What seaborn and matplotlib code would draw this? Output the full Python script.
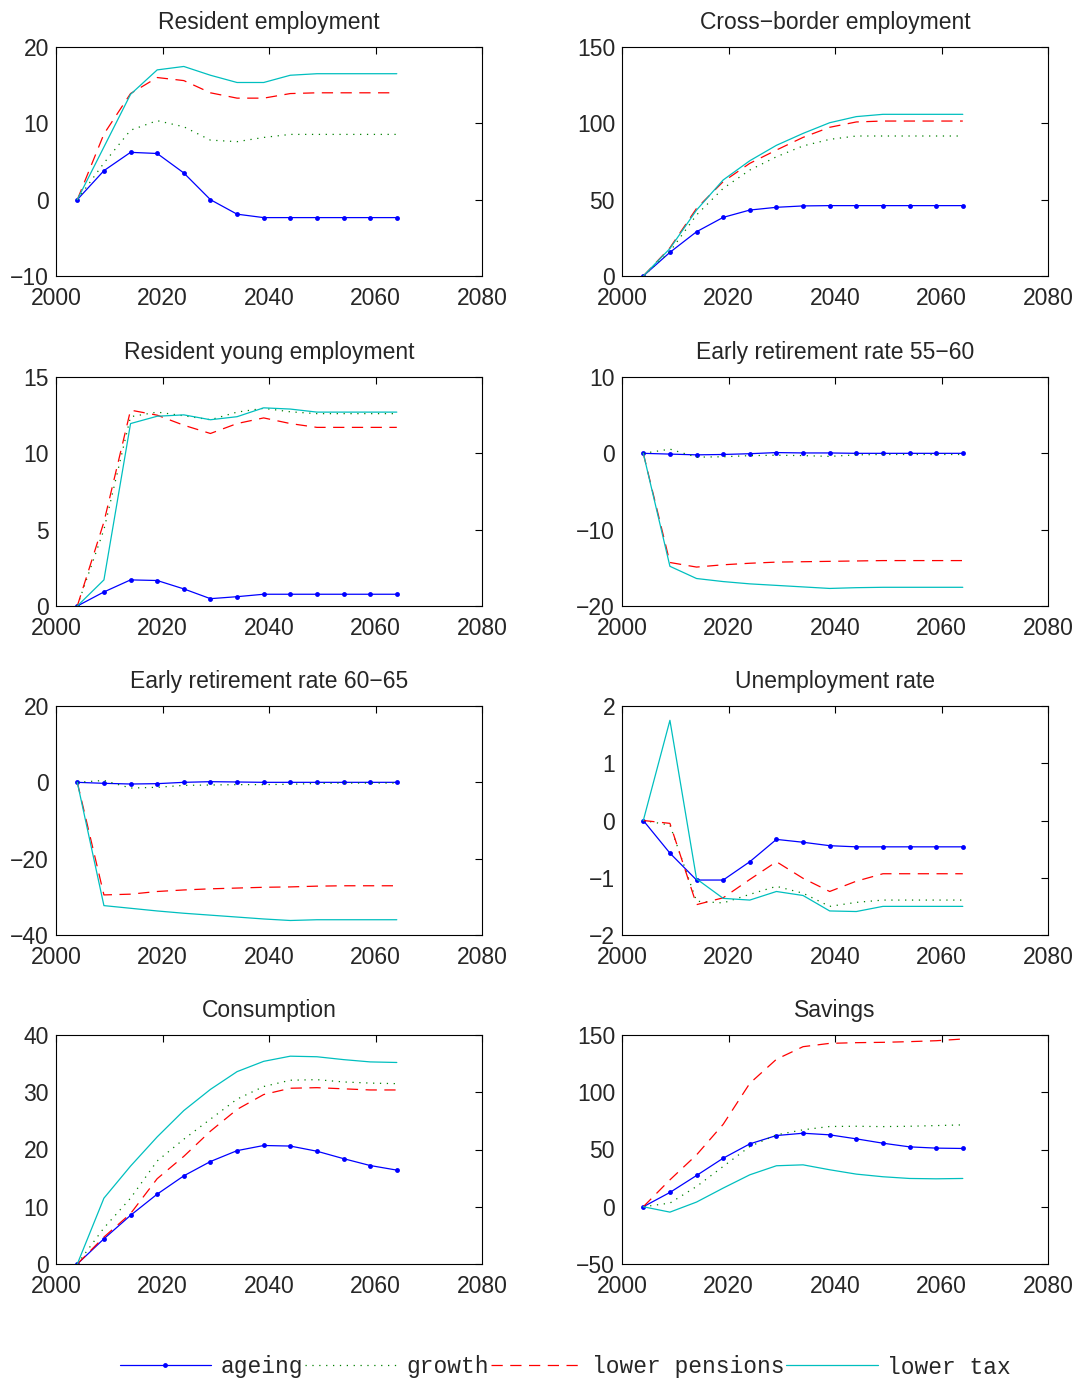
import numpy as np
import pandas as pd
import matplotlib
matplotlib.use("Agg")
import matplotlib.pyplot as plt
import seaborn as sns

years = [2004, 2009, 2014, 2019, 2024, 2029, 2034, 2039, 2044, 2049, 2054, 2059, 2064]
scenarios = ["ageing", "growth", "lower pensions", "lower tax"]
titles = ["Resident employment", "Cross\u2212border employment",
          "Resident young employment", "Early retirement rate 55\u221260",
          "Early retirement rate 60\u221265", "Unemployment rate",
          "Consumption", "Savings"]

res_emp = {
    "ageing": [0, 3.8, 6.2, 6.05, 3.5, 0, -1.9, -2.35, -2.35, -2.35, -2.35, -2.35, -2.35],
    "growth": [0, 4.8, 9.1, 10.35, 9.55, 7.8, 7.6, 8.15, 8.55, 8.55, 8.55, 8.55, 8.55],
    "lower pensions": [0, 8.6, 13.9, 16.0, 15.6, 14.0, 13.3, 13.3, 13.9, 14.0, 14.0, 14.0, 14.0],
    "lower tax": [0, 6.9, 13.8, 17.0, 17.45, 16.3, 15.35, 15.35, 16.3, 16.5, 16.5, 16.5, 16.5],
}
cross_emp = {
    "ageing": [0, 15.5, 29, 38.4, 43.2, 45, 45.9, 46.1, 46.1, 46.1, 46.1, 46.1, 46.1],
    "growth": [0, 16, 40, 57.4, 69.4, 78.1, 85.2, 89.5, 91.7, 91.7, 91.7, 91.7, 91.7],
    "lower pensions": [0, 18.5, 44.3, 61.8, 73.8, 82.5, 90.8, 97.4, 100.9, 101.5, 101.5, 101.5, 101.5],
    "lower tax": [0, 18, 43.2, 62.9, 75.5, 85.6, 93.4, 100.4, 104.4, 105.9, 105.9, 105.9, 105.9],
}
young_emp = {
    "ageing": [0, 0.92, 1.71, 1.67, 1.12, 0.48, 0.61, 0.77, 0.77, 0.77, 0.77, 0.77, 0.77],
    "growth": [0, 5.0, 12.4, 12.7, 12.46, 12.2, 12.7, 12.95, 12.72, 12.6, 12.6, 12.6, 12.6],
    "lower pensions": [0, 5.5, 12.83, 12.5, 11.84, 11.3, 11.95, 12.32, 11.95, 11.7, 11.7, 11.7, 11.7],
    "lower tax": [0, 1.71, 11.95, 12.43, 12.52, 12.2, 12.4, 12.98, 12.9, 12.7, 12.7, 12.7, 12.7],
}
early_55 = {
    "ageing": [0, -0.1, -0.2, -0.15, -0.05, 0.1, 0.05, 0.05, 0, 0, 0, 0, 0],
    "growth": [0, 0.55, -0.5, -0.45, -0.3, -0.25, -0.3, -0.4, -0.2, -0.15, -0.15, -0.15, -0.15],
    "lower pensions": [0, -14.3, -14.9, -14.6, -14.4, -14.25, -14.2, -14.15, -14.1, -14.05, -14.05, -14.05, -14.05],
    "lower tax": [0, -14.8, -16.4, -16.8, -17.1, -17.3, -17.5, -17.7, -17.6, -17.55, -17.55, -17.55, -17.55],
}
early_60 = {
    "ageing": [0, -0.26, -0.44, -0.35, 0, 0.17, 0.09, 0, 0, 0, 0, 0, 0],
    "growth": [0, 0.5, -1.5, -1.3, -0.8, -0.7, -0.6, -0.6, -0.5, -0.3, -0.2, -0.2, -0.2],
    "lower pensions": [0, -29.5, -29.3, -28.6, -28.2, -27.9, -27.7, -27.5, -27.4, -27.2, -27.1, -27.1, -27.1],
    "lower tax": [0, -32.3, -33.0, -33.7, -34.3, -34.8, -35.3, -35.8, -36.2, -36.0, -36.0, -36.0, -36.0],
}
unemp = {
    "ageing": [0, -0.57, -1.04, -1.04, -0.72, -0.33, -0.38, -0.44, -0.46, -0.46, -0.46, -0.46, -0.46],
    "growth": [0, -0.08, -1.41, -1.44, -1.29, -1.15, -1.27, -1.5, -1.43, -1.39, -1.39, -1.39, -1.39],
    "lower pensions": [0, -0.05, -1.47, -1.35, -1.03, -0.72, -1.01, -1.24, -1.06, -0.93, -0.93, -0.93, -0.93],
    "lower tax": [0, 1.75, -1.02, -1.36, -1.39, -1.24, -1.31, -1.58, -1.59, -1.5, -1.5, -1.5, -1.5],
}
consumption = {
    "ageing": [0, 4.4, 8.5, 12.2, 15.4, 17.9, 19.8, 20.7, 20.6, 19.7, 18.4, 17.2, 16.4],
    "growth": [0, 6.3, 11.5, 18.0, 21.8, 25.3, 28.8, 31.0, 32.1, 32.2, 31.8, 31.6, 31.5],
    "lower pensions": [0, 4.7, 8.8, 14.9, 18.8, 23.2, 27.0, 29.6, 30.7, 30.8, 30.6, 30.4, 30.4],
    "lower tax": [0, 11.5, 17.1, 22.2, 26.8, 30.5, 33.6, 35.4, 36.3, 36.2, 35.7, 35.3, 35.2],
}
savings = {
    "ageing": [0, 12.5, 27.3, 42.4, 54.9, 62.2, 64.2, 62.8, 59.3, 55.5, 52.3, 51.2, 50.9],
    "growth": [0, 3.2, 17.7, 35.2, 52.6, 62.8, 67.2, 70.1, 70.3, 70.0, 70.3, 70.9, 71.5],
    "lower pensions": [0, 23.5, 45.3, 72.0, 107.8, 128.8, 139.8, 142.7, 143.3, 143.6, 144.2, 145.0, 146.5],
    "lower tax": [0, -4.7, 4.1, 16.3, 27.9, 35.8, 36.6, 32.3, 28.5, 26.2, 24.7, 24.4, 24.7],
}

panels = [res_emp, cross_emp, young_emp, early_55, early_60, unemp, consumption, savings]
ylims = [(-10, 20), (0, 150), (0, 15), (-20, 10), (-40, 20), (-2, 2), (0, 40), (-50, 150)]
ysteps = [10, 50, 5, 10, 20, 1, 10, 50]

styles = {
    "ageing": dict(color=(0, 0, 1), linestyle="-", marker=".", markersize=7),
    "growth": dict(color=(0, 0.5, 0), linestyle=(0, (1, 4.5))),
    "lower pensions": dict(color=(1, 0, 0), linestyle=(0, (9, 6))),
    "lower tax": dict(color=(0, 0.75, 0.75), linestyle="-"),
}

sns.set_style("white")
plt.rcParams["font.family"] = ["Liberation Sans", "DejaVu Sans"]
plt.rcParams["axes.unicode_minus"] = True

W, H = 1083, 1382
fig = plt.figure(figsize=(W / 100, H / 100), dpi=100)

lefts = [56, 622]
tops = [47, 377, 706, 1035]
aw, ah = 426, 229

handles = {}
for i, data in enumerate(panels):
    r, c = divmod(i, 2)
    ax = fig.add_axes([lefts[c] / W, 1 - (tops[r] + ah) / H, aw / W, ah / H])
    for s in scenarios:
        df = pd.DataFrame({"year": years, "value": data[s]})
        sns.lineplot(data=df, x="year", y="value", ax=ax, linewidth=0.9,
                     markeredgewidth=0, **styles[s])
        handles[s] = ax.lines[-1]
    lo, hi = ylims[i]
    ax.set_xlim(2000, 2080)
    ax.set_ylim(lo, hi)
    ax.set_xticks(np.arange(2000, 2081, 20))
    ax.set_yticks(np.arange(lo, hi + 0.001, ysteps[i]))
    ax.set_xlabel("")
    ax.set_ylabel("")
    ax.set_title(titles[i], fontsize=16.5, pad=13)
    ax.tick_params(direction="in", top=True, right=True, length=5, width=0.8,
                   labelsize=16.5, color="black")
    ax.tick_params(axis="x", pad=8)
    ax.tick_params(axis="y", pad=5)
    for sp in ax.spines.values():
        sp.set_visible(True)
        sp.set_color("black")
        sp.set_linewidth(0.8)

fig.legend([handles[s] for s in scenarios], scenarios, loc="center",
           bbox_to_anchor=(0.522, 1 - 1367 / H), ncol=4, frameon=False,
           prop={"family": "Liberation Mono", "size": 16.5},
           handlelength=4.0, handletextpad=0.4, columnspacing=0.1)

fig.savefig("out.png", dpi=100, facecolor="white")
